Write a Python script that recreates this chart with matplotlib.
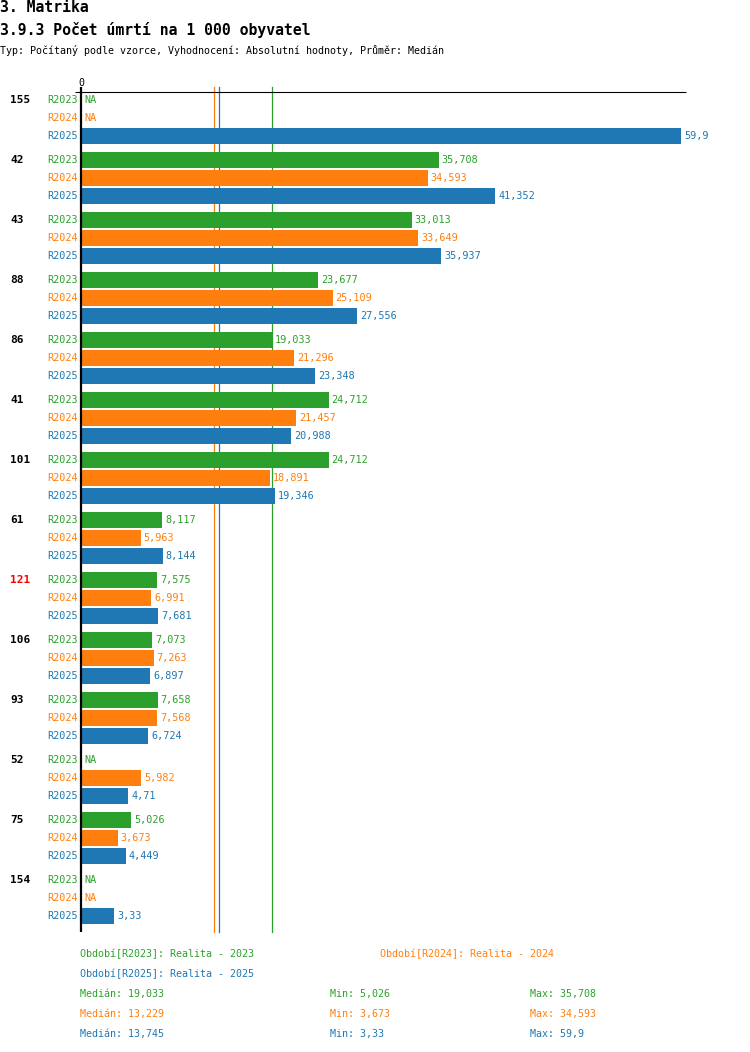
import matplotlib
matplotlib.use("Agg")
import matplotlib.pyplot as plt
from matplotlib.transforms import blended_transform_factory

plt.rcParams['font.family'] = ['DejaVu Sans Mono']

groups = ['155', '42', '43', '88', '86', '41', '101', '61', '121', '106', '93', '52', '75', '154']
group_colors = ['black'] * 8 + ['red'] + ['black'] * 5
series_names = ['R2023', 'R2024', 'R2025']
series_colors = ['#2ca02c', '#ff7f0e', '#1f77b4']
r2023 = [None, 35.708, 33.013, 23.677, 19.033, 24.712, 24.712, 8.117, 7.575, 7.073, 7.658, None, 5.026, None]
r2024 = [None, 34.593, 33.649, 25.109, 21.296, 21.457, 18.891, 5.963, 6.991, 7.263, 7.568, 5.982, 3.673, None]
r2025 = [59.9, 41.352, 35.937, 27.556, 23.348, 20.988, 19.346, 8.144, 7.681, 6.897, 6.724, 4.71, 4.449, 3.33]
series = [r2023, r2024, r2025]
legend_texts = ['Období[R2023]: Realita - 2023', 'Období[R2024]: Realita - 2024', 'Období[R2025]: Realita - 2025']
medians = [19.033, 13.229, 13.745]
mins = [5.026, 3.673, 3.33]
maxs = [35.708, 34.593, 59.9]


def fmt(v):
    return repr(v).replace('.', ',')


W, H = 750, 1052
fig = plt.figure(figsize=(W / 100, H / 100), dpi=100)


def fx(px):
    return px / W


def fy(py):
    return 1 - py / H


# Titles
fig.text(fx(0), fy(8), '3. Matrika', fontsize=10.6, fontweight='bold', va='center', ha='left')
fig.text(fx(0), fy(30), '3.9.3 Počet úmrtí na 1 000 obyvatel', fontsize=10.6, fontweight='bold', va='center', ha='left')
fig.text(fx(0), fy(50), 'Typ: Počítaný podle vzorce, Vyhodnocení: Absolutní hodnoty, Průměr: Medián',
         fontsize=7.2, va='center', ha='left')

ax = fig.add_axes([fx(81), fy(932), fx(686) - fx(81), (932 - 92) / H])
ax.set_xlim(0, 60.4)
ax.set_ylim(832, -8)
ax.set_xticks([])
ax.set_yticks([])
for s in ['right', 'bottom', 'left', 'top']:
    ax.spines[s].set_visible(False)

# axis frame lines (top line starts slightly left of zero, vertical line pokes above)
ax.plot([-0.6, 60.4], [-8, -8], color='black', lw=0.8, clip_on=False, zorder=4, solid_capstyle='butt')
ax.plot([0, 0], [-13, 832], color='black', lw=1.6, clip_on=False, zorder=4, solid_capstyle='butt')

ax.annotate('0', xy=(0, -8), xytext=(0, 4), textcoords='offset pixels', ha='center', va='bottom',
            fontsize=7.2, annotation_clip=False)

for m, c in zip(medians, series_colors):
    ax.plot([m, m], [-13, 832], color=c, lw=0.9, zorder=1, clip_on=False)

grp_tr = blended_transform_factory(fig.transFigure, ax.transData)
for g, name in enumerate(groups):
    base = 60 * g
    ax.text(fx(10), base, name, transform=grp_tr, fontsize=8, fontweight='bold',
            color=group_colors[g], ha='left', va='center')
    for k in range(3):
        y = base + 18 * k
        v = series[k][g]
        c = series_colors[k]
        ax.annotate(series_names[k], xy=(0, y), xytext=(-3, 0), textcoords='offset pixels',
                    ha='right', va='center', fontsize=7.3, color=c, annotation_clip=False)
        if v is None:
            ax.annotate('NA', xy=(0, y), xytext=(3, 0), textcoords='offset pixels',
                        ha='left', va='center', fontsize=7.3, color=c, annotation_clip=False)
        else:
            ax.barh(y, v, height=16, color=c, zorder=2)
            ax.annotate(fmt(v), xy=(v, y), xytext=(3, 0), textcoords='offset pixels',
                        ha='left', va='center', fontsize=7.3, color=c, annotation_clip=False)

# Legend
fig.text(fx(80), fy(954), legend_texts[0], color=series_colors[0], fontsize=7.2, va='center')
fig.text(fx(380), fy(954), legend_texts[1], color=series_colors[1], fontsize=7.2, va='center')
fig.text(fx(80), fy(974), legend_texts[2], color=series_colors[2], fontsize=7.2, va='center')
for i in range(3):
    yy = fy(994 + 20 * i)
    c = series_colors[i]
    fig.text(fx(80), yy, 'Medián: ' + fmt(medians[i]), color=c, fontsize=7.2, va='center')
    fig.text(fx(330), yy, 'Min: ' + fmt(mins[i]), color=c, fontsize=7.2, va='center')
    fig.text(fx(530), yy, 'Max: ' + fmt(maxs[i]), color=c, fontsize=7.2, va='center')

fig.savefig('out.png', dpi=100)
